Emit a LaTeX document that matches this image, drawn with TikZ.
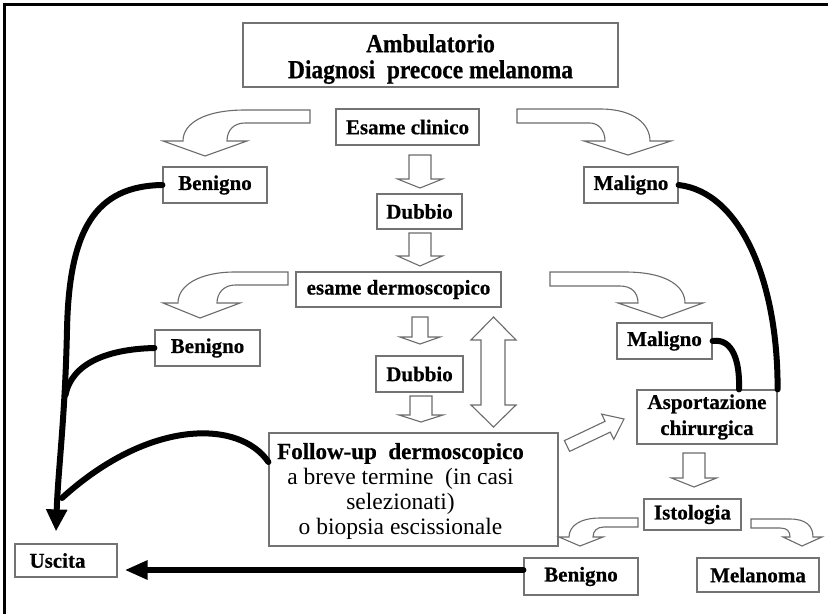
\documentclass[tikz,border=0pt]{standalone}
\usepackage{fontspec}
\setmainfont{Liberation Serif}[BoldFeatures={FakeBold=0.6}]
\newfontfamily\titlefont[FakeStretch=0.9,BoldFeatures={FakeBold=0.6}]{Liberation Serif}
\usetikzlibrary{arrows.meta,calc}
\newcommand\dnarrow[6]{\draw[blk] (#1-#5,#2) -- (#1+#5,#2) -- (#1+#5,#3) -- (#1+#6,#3) -- (#1,#4) -- (#1-#6,#3) -- (#1-#5,#3) -- cycle;}
\begin{document}
\begin{tikzpicture}[x=1pt,y=-1pt,
  box/.style={draw=black!55, line width=1.2pt, fill=white, inner sep=0pt, align=center,
    font=\bfseries\fontsize{21}{25}\selectfont},
  blk/.style={draw=black!58, line width=1.1pt, fill=white, line join=miter},
  blkline/.style={line width=6pt, black, line cap=round},
  bigtip/.style={-{Triangle[width=20pt,length=22pt]}},
]
\useasboundingbox (0,0) rectangle (828,614);
% frame (cropped)
\draw[line width=3pt] (2.5,4) -- (828,4);
\draw[line width=3pt] (4,2.5) -- (4,614);

% boxes
\node[box, minimum width=375pt, minimum height=64pt, font=\titlefont\bfseries\fontsize{26}{26}\selectfont] (title) at (430.5,55)
  {\raisebox{-5pt}[\height][\depth]{\begin{tabular}{@{}c@{}}Ambulatorio\\Diagnosi\ \ precoce melanoma\end{tabular}}};
\node[box, minimum width=143pt, minimum height=36pt] (clinico) at (407.5,127) {Esame clinico};
\node[box, minimum width=104pt, minimum height=36pt] (benigno1) at (215,185) {Benigno};
\node[box, minimum width=94pt, minimum height=36pt] (maligno1) at (631,185) {Maligno};
\node[box, minimum width=85pt, minimum height=35pt] (dubbio1) at (419.5,211.5) {Dubbio};
\node[box, minimum width=205pt, minimum height=35pt] (dermo) at (398.5,289.5) {esame dermoscopico};
\node[box, minimum width=105pt, minimum height=36pt] (benigno2) at (207.5,348) {Benigno};
\node[box, minimum width=87pt, minimum height=36pt] (dubbio2) at (419.5,374) {Dubbio};
\node[box, minimum width=95pt, minimum height=36pt] (maligno2) at (664.5,341) {Maligno};
\node[box, minimum width=140pt, minimum height=54pt, font=\bfseries\fontsize{21}{26}\selectfont] (asport) at (707,417) {Asportazione\\chirurgica};
\node[box, minimum width=289pt, minimum height=113pt, font=\fontsize{23.5}{25}\selectfont] (followup) at (413.5,489.5)
  {\raisebox{-2pt}[\height][\depth]{\begin{tabular}{@{}c@{}}{\bfseries\fontsize{23}{25}\selectfont Follow-up\ \ dermoscopico}\\a breve termine\ \ (in casi\\selezionati)\\o biopsia escissionale\end{tabular}}\hspace*{26pt}};
\node[box, minimum width=97pt, minimum height=31pt] (istologia) at (692.5,514.5) {Istologia};
\node[box, minimum width=114pt, minimum height=37pt] (benigno3) at (581,576.5) {Benigno};
\node[box, minimum width=122pt, minimum height=34pt] (melanoma) at (758,575) {Melanoma};
\node[box, minimum width=102pt, minimum height=33pt] (uscita) at (66,560.5) {Uscita\hspace*{17pt}};

% straight block arrows
\dnarrow{420}{155}{179}{188}{11}{22.5}
\dnarrow{420}{233}{256}{266}{11}{22.5}
\dnarrow{420}{317}{337}{344}{8}{20}
\dnarrow{421}{396}{415}{422}{11}{22}
\dnarrow{694}{453}{478}{487}{11}{22.5}

% double arrow
\draw[blk] (481,340) -- (471,340) -- (493.5,317) -- (516,340) -- (505,340) -- (505,405) -- (516,405) -- (493.5,427) -- (471,405) -- (481,405) -- cycle;

% diagonal arrow
\draw[blk] (569.6,451.4) -- (610.3,432.1) -- (613.8,439.3) -- (624,419) -- (601.6,414.1) -- (605.1,421.3) -- (564.4,440.6) -- cycle;

% curved block arrows
\draw[blk] (310,110) -- (245,110) .. controls (205,110) and (183,123) .. (183,141) -- (163,141) -- (205,156) -- (247,141) -- (227,141) .. controls (227,130) and (234,123) .. (245,123) -- (310,123) -- cycle;
\draw[blk] (517,109) -- (600,109) .. controls (635,109) and (650,125) .. (650,141) -- (671,141) -- (628,155) -- (584,141) -- (605,141) .. controls (605,130) and (598,123) .. (590,123) -- (517,123) -- cycle;
\draw[blk] (288,272) -- (235,272) .. controls (200,272) and (178,285) .. (178,303) -- (163,303) -- (200,318) -- (240,303) -- (217,303) .. controls (217,293) and (224,285) .. (235,285) -- (288,285) -- cycle;
\draw[blk] (550,272) -- (625,272) .. controls (668,272) and (685,287) .. (685,303) -- (703,303) -- (662,318) -- (618,303) -- (638,303) .. controls (638,293) and (632,286) .. (620,286) -- (550,286) -- cycle;
\draw[blk] (638,518) -- (600,518) .. controls (580,518) and (569,526) .. (569,537) -- (559,537) -- (580,546) -- (603,537) -- (593,537) .. controls (593,531) and (597,527) .. (604,527) -- (638,527) -- cycle;
\draw[blk] (751,519) -- (790,519) .. controls (806,519) and (813,526) .. (813,537) -- (822,537) -- (802,546) -- (783,537) -- (790,537) .. controls (790,531) and (787,528) .. (780,528) -- (751,528) -- cycle;

% thick connectors
\coordinate (utip) at ($(uscita.north)+(-10,-12)$);
\coordinate (j2) at (65.5,395);
\coordinate (j3) at (62,498);
\draw[blkline, bigtip] (benigno1.west) .. controls (95,186) and (69,230) .. (67,330) .. controls (65,420) and (58,470) .. (utip);
\draw[blkline] (benigno2.west) .. controls (110,349) and (72,362) .. (j2);
\draw[blkline] ($(followup.west)+(0,-27.5)$) .. controls (240,420) and (150,418) .. (j3);
\draw[blkline] (maligno1.east) .. controls (740,192) and (778,280) .. (asport.north east);
\draw[blkline] (maligno2.east) .. controls (733,338) and (740,362) .. ($(asport.north)+(32,0)$);
\draw[blkline, -{Triangle[width=18pt,length=23pt]}] ($(benigno3.west)+(0,-6.5)$) -- ($(uscita.east)+(7,9.5)$);
\end{tikzpicture}
\end{document}
